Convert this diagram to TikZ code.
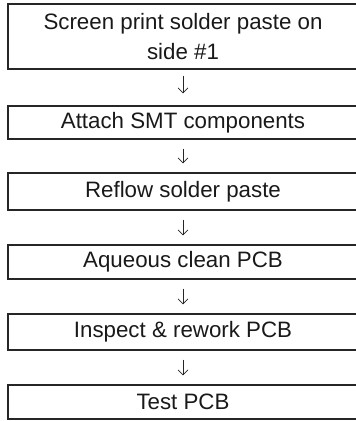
\documentclass[tikz,border=0pt]{standalone}
\usepackage{fontspec}
\setmainfont{Liberation Sans}
\usetikzlibrary{arrows.meta}
\begin{document}
\begin{tikzpicture}[x=1pt,y=-1pt,
  stepbox/.style={draw=black!85, line width=1.1pt, minimum width=350pt, inner sep=0pt,
    font=\fontsize{22.3pt}{30pt}\selectfont, text=black!90, align=center},
  flow/.style={draw=black!85, line width=0.7pt, -{Straight Barb[length=5pt,width=10pt]},
    shorten <=9pt, shorten >=9pt}]
\useasboundingbox (0,0) rectangle (356,421);
\node[stepbox, minimum height=65pt] (s1) at (183,36.5) {Screen print solder paste on\\side \#1};
\node[stepbox, minimum height=33pt] (s2) at (183,122.5) {Attach SMT components};
\node[stepbox, minimum height=37pt] (s3) at (183,191.5) {Reflow solder paste};
\node[stepbox, minimum height=34pt] (s4) at (183,262) {Aqueous clean PCB};
\node[stepbox, minimum height=36pt] (s5) at (183,332) {Inspect \& rework PCB};
\node[stepbox, minimum height=34pt] (s6) at (183,402) {Test PCB};
\draw[flow, shorten <=6pt, shorten >=12pt] (s1.south) -- (s2.north);
\draw[flow] (s2.south) -- (s3.north);
\draw[flow] (s3.south) -- (s4.north);
\draw[flow] (s4.south) -- (s5.north);
\draw[flow] (s5.south) -- (s6.north);
\end{tikzpicture}
\end{document}
